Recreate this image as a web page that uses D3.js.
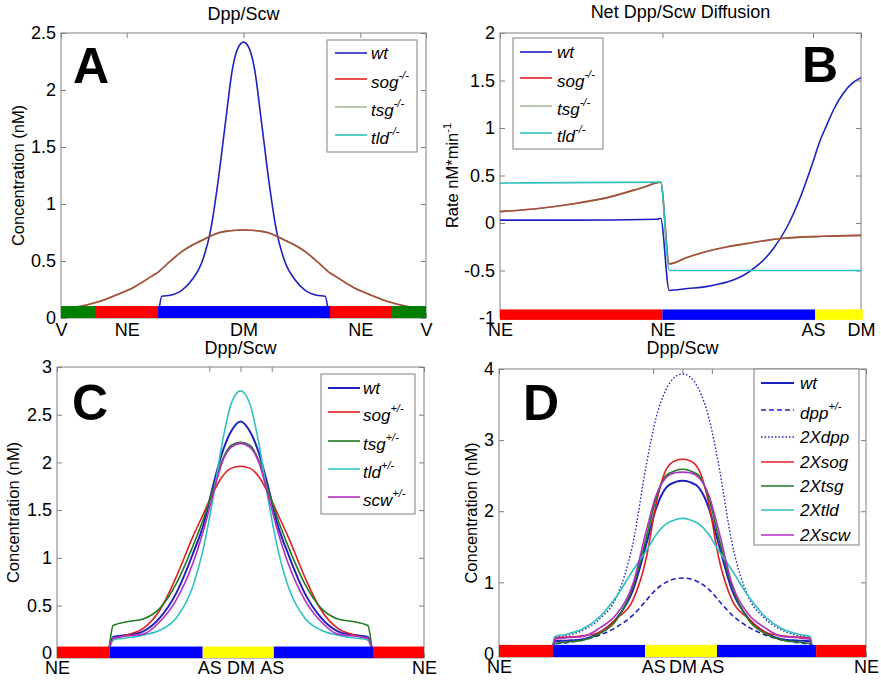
<!DOCTYPE html>
<html>
<head>
<meta charset="utf-8">
<script src="https://cdn.jsdelivr.net/npm/d3@7"></script>
<style>
body { margin: 0; background: #fff; }
text { font-family: "Liberation Sans", Arial, sans-serif; }
</style>
</head>
<body>
<script>
// ---------- panel A : Dpp/Scw, null mutants ----------
var aX   = [0, 5, 10, 15, 20, 25, 26.9, 27.6, 30, 33, 36, 38.5, 41, 43, 45, 47, 48.5, 50, 51.5, 53, 55, 57, 59, 61.5, 64, 67, 70, 72.4, 73.1, 75, 80, 85, 90, 95, 100];
var aWt  = [null, null, null, null, null, null, 0.08, 0.19, 0.2, 0.24, 0.34, 0.48, 0.77, 1.19, 1.7, 2.19, 2.37, 2.42, 2.37, 2.19, 1.7, 1.19, 0.77, 0.48, 0.34, 0.24, 0.2, 0.19, 0.08, null, null, null, null, null, null];
var aSog = [0.08, 0.1, 0.14, 0.2, 0.27, 0.37, 0.41, 0.43, 0.5, 0.58, 0.64, 0.68, 0.72, 0.745, 0.76, 0.768, 0.77, 0.772, 0.77, 0.768, 0.76, 0.745, 0.72, 0.68, 0.64, 0.58, 0.5, 0.43, 0.41, 0.37, 0.27, 0.2, 0.14, 0.1, 0.08];
var aTsg = [0.08, 0.1, 0.14, 0.2, 0.27, 0.37, 0.41, 0.43, 0.5, 0.58, 0.64, 0.68, 0.72, 0.745, 0.76, 0.768, 0.77, 0.772, 0.77, 0.768, 0.76, 0.745, 0.72, 0.68, 0.64, 0.58, 0.5, 0.43, 0.41, 0.37, 0.27, 0.2, 0.14, 0.1, 0.08];
var aTldX = [0, 100];
var aTld  = [0.03, 0.03];
var aNames = ['wt', 'sog', 'tsg', 'tld'];
var aSups  = ['', '-/-', '-/-', '-/-'];
var aYTicks = [0, 0.5, 1, 1.5, 2, 2.5];
var aXTicks = [0, 18, 50, 82, 100];
var aXLabels = ['V', 'NE', 'DM', 'NE', 'V'];
var aBand = [0, 9.6, 26.6, 73.7, 90.7, 100];

// ---------- panel B : net diffusion ----------
var bWtX  = [0, 20, 43.5, 44.5, 46.9, 52, 57.2, 61, 64.6, 67.5, 70.2, 73, 75.7, 79.4, 83.5, 86.5, 88.5, 90.5, 92.5, 95, 97.5, 100];
var bWt   = [0.03, 0.03, 0.04, 0.05, -0.71, -0.69, -0.67, -0.64, -0.6, -0.55, -0.48, -0.39, -0.27, -0.05, 0.3, 0.62, 0.85, 1.03, 1.2, 1.36, 1.47, 1.53];
var bSogX = [0, 10, 20, 30, 40, 44.5, 46.9, 52, 57.2, 63, 69.3, 78.5, 89.6, 100];
var bSog  = [0.12, 0.15, 0.2, 0.27, 0.38, 0.43, -0.43, -0.36, -0.3, -0.25, -0.21, -0.16, -0.14, -0.13];
var bTsg  = [0.12, 0.15, 0.2, 0.27, 0.38, 0.43, -0.43, -0.36, -0.3, -0.25, -0.21, -0.16, -0.14, -0.13];
var bTldX = [0, 44.5, 46.9, 100];
var bTld  = [0.42, 0.43, -0.5, -0.5];
var bYTicks = [-1, -0.5, 0, 0.5, 1, 1.5, 2];
var bXTicks = [0, 45, 86.7, 100];
var bXLabels = ['NE', 'NE', 'AS', 'DM'];
var bBand = [0, 45, 87.3, 100.5];

// ---------- panel C : heterozygotes ----------
var cX   = [14.2, 15.3, 19, 23.5, 28, 32.5, 37, 40, 42.5, 45, 47.5, 50, 52.5, 55, 57.5, 60, 63, 67.5, 72, 76.5, 81, 84.7, 85.8];
var cWt  = [0.05, 0.17, 0.19, 0.23, 0.37, 0.63, 1.04, 1.36, 1.75, 2.1, 2.33, 2.43, 2.33, 2.1, 1.75, 1.36, 1.04, 0.63, 0.37, 0.23, 0.19, 0.17, 0.05];
var cSog = [0.05, 0.14, 0.19, 0.26, 0.45, 0.8, 1.22, 1.47, 1.68, 1.85, 1.94, 1.96, 1.94, 1.85, 1.68, 1.47, 1.22, 0.8, 0.45, 0.26, 0.19, 0.14, 0.05];
var cTsg = [0.05, 0.29, 0.33, 0.36, 0.47, 0.73, 1.12, 1.42, 1.72, 2.02, 2.18, 2.21, 2.18, 2.02, 1.72, 1.42, 1.12, 0.73, 0.47, 0.36, 0.33, 0.29, 0.05];
var cTld = [0.05, 0.14, 0.16, 0.19, 0.24, 0.37, 0.7, 1.12, 1.62, 2.2, 2.62, 2.75, 2.62, 2.2, 1.62, 1.12, 0.7, 0.37, 0.24, 0.19, 0.16, 0.14, 0.05];
var cScw = [0.05, 0.16, 0.18, 0.2, 0.33, 0.56, 0.94, 1.3, 1.66, 2.0, 2.16, 2.2, 2.16, 2.0, 1.66, 1.3, 0.94, 0.56, 0.33, 0.2, 0.18, 0.16, 0.05];
var cNames = ['wt', 'sog', 'tsg', 'tld', 'scw'];
var cSups  = ['', '+/-', '+/-', '+/-', '+/-'];
var cYTicks = [0, 0.5, 1, 1.5, 2, 2.5, 3];
var cXTicks = [0, 41.5, 50, 58.5, 100];
var cXLabels = ['NE', 'AS', 'DM', 'AS', 'NE'];
var cBand = [0, 14.4, 39.7, 59.1, 86.1, 100];

// ---------- panel D : doubled doses ----------
var dX    = [14.6, 15.2, 18.4, 23, 27.5, 32, 36.5, 40.2, 42.8, 45.5, 48, 50, 52, 54.5, 57.2, 59.8, 63.5, 68, 72.5, 77, 81.6, 84.8, 85.4];
var dWt   = [0.05, 0.17, 0.18, 0.2, 0.3, 0.49, 0.89, 1.55, 2.04, 2.33, 2.41, 2.43, 2.41, 2.33, 2.04, 1.55, 0.89, 0.49, 0.3, 0.2, 0.18, 0.17, 0.05];
var dDpp  = [0.04, 0.13, 0.15, 0.19, 0.26, 0.37, 0.54, 0.75, 0.9, 1.0, 1.05, 1.06, 1.05, 1.0, 0.9, 0.75, 0.54, 0.37, 0.26, 0.19, 0.15, 0.13, 0.04];
var d2Dpp = [0.08, 0.22, 0.25, 0.33, 0.49, 0.79, 1.55, 2.67, 3.31, 3.71, 3.89, 3.93, 3.89, 3.71, 3.31, 2.67, 1.55, 0.79, 0.49, 0.33, 0.25, 0.22, 0.08];
var d2Sog = [0.05, 0.22, 0.23, 0.25, 0.3, 0.49, 0.75, 1.36, 2.1, 2.58, 2.71, 2.73, 2.71, 2.58, 2.1, 1.36, 0.75, 0.49, 0.3, 0.25, 0.23, 0.22, 0.05];
var d2Tsg = [0.04, 0.14, 0.16, 0.19, 0.28, 0.47, 0.94, 1.64, 2.18, 2.5, 2.57, 2.59, 2.57, 2.5, 2.18, 1.64, 0.94, 0.47, 0.28, 0.19, 0.16, 0.14, 0.04];
var d2Tld = [0.06, 0.24, 0.27, 0.35, 0.52, 0.8, 1.17, 1.45, 1.67, 1.82, 1.88, 1.9, 1.88, 1.82, 1.67, 1.45, 1.17, 0.8, 0.52, 0.35, 0.27, 0.24, 0.06];
var d2Scw = [0.05, 0.2, 0.22, 0.24, 0.36, 0.55, 0.98, 1.74, 2.22, 2.47, 2.54, 2.55, 2.54, 2.47, 2.22, 1.74, 0.98, 0.55, 0.36, 0.24, 0.22, 0.2, 0.05];
var dNames = ['wt', 'dpp', '2Xdpp', '2Xsog', '2Xtsg', '2Xtld', '2Xscw'];
var dSups  = ['', '+/-', '', '', '', '', ''];
var dYTicks = [0, 1, 2, 3, 4];
var dXTicks = [0, 42, 50, 58, 100];
var dXLabels = ['NE', 'AS', 'DM', 'AS', 'NE'];
var dBand = [0, 14.7, 39.8, 59.4, 86.4, 100];

// colours
var BLUE = '#2020c0', RED = '#e02020', GREEN = '#207a20', PALEGREEN = '#60804a',
    CYAN = '#30c0c0', MAGENTA = '#b030c0';
var BR = '#ff0000', BB = '#0000ff', BG = '#008000', BY = '#ffff00';

var W = 881, H = 682;
var svg = d3.select('body').append('svg').attr('width', W).attr('height', H);

function styleAxis(sel) {
    sel.select('.domain').remove();
    sel.selectAll('line').attr('stroke', '#808080');
    sel.selectAll('text').attr('fill', '#000').attr('font-size', '18px')
        .attr('font-family', '"Liberation Sans", Arial, sans-serif');
}

function panel(c) {
    var x = d3.scaleLinear().domain([0, 100]).range([c.left, c.right]);
    var y = d3.scaleLinear().domain(c.yDomain).range([c.bottom, c.top]);
    var g = svg.append('g');

    // ticks on all four sides, pointing inward
    g.append('g').attr('transform', 'translate(' + c.left + ',0)')
        .call(d3.axisLeft(y).tickValues(c.yTicks).tickSize(-5).tickSizeOuter(0).tickPadding(5)
            .tickFormat(function (d) { return String(d); }))
        .call(styleAxis);
    g.append('g').attr('transform', 'translate(' + c.right + ',0)')
        .call(d3.axisRight(y).tickValues(c.yTicks).tickSize(-5).tickSizeOuter(0).tickFormat(''))
        .call(styleAxis);
    g.append('g').attr('transform', 'translate(0,' + c.top + ')')
        .call(d3.axisTop(x).tickValues(c.xTicks).tickSize(-5).tickSizeOuter(0).tickFormat(''))
        .call(styleAxis);
    g.append('g').attr('transform', 'translate(0,' + c.bottom + ')')
        .call(d3.axisBottom(x).tickValues(c.xTicks).tickSize(-5).tickSizeOuter(0).tickPadding(c.xPad)
            .tickFormat(function (d, i) { return c.xLabels[i]; }))
        .call(styleAxis);

    g.append('rect')
        .attr('x', c.left).attr('y', c.top)
        .attr('width', c.right - c.left).attr('height', c.bottom - c.top)
        .attr('fill', 'none').attr('stroke', '#808080');

    var line = d3.line()
        .defined(function (d) { return d[1] !== null; })
        .x(function (d) { return x(d[0]); })
        .y(function (d) { return y(d[1]); })
        .curve(d3.curveMonotoneX);

    c.series.forEach(function (s) {
        var pts = s.x.map(function (v, i) { return [v, s.y[i]]; });
        g.append('path').datum(pts)
            .attr('d', line)
            .attr('fill', 'none')
            .attr('stroke', s.color)
            .attr('stroke-width', s.width || 1.6)
            .attr('stroke-opacity', s.opacity || 1)
            .attr('stroke-dasharray', s.dash || null);
    });

    // region bar along the bottom
    g.selectAll('.band').data(d3.pairs(c.band)).enter()
        .append('rect')
        .attr('x', function (d) { return x(d[0]); })
        .attr('width', function (d) { return x(d[1]) - x(d[0]); })
        .attr('y', y(c.bandY[1]))
        .attr('height', y(c.bandY[0]) - y(c.bandY[1]))
        .attr('fill', function (d, i) { return c.bandColors[i]; });

    g.append('text').attr('x', (c.left + c.right) / 2).attr('y', c.titleY)
        .attr('text-anchor', 'middle').attr('font-size', '18px').text(c.title);

    g.append('text').attr('x', c.letterX).attr('y', c.letterY)
        .attr('font-size', '50px').attr('font-weight', 'bold').text(c.letter);

    var yl = g.append('text')
        .attr('transform', 'translate(' + c.yLabelX + ',' + (c.top + c.bottom) / 2 + ') rotate(-90)')
        .attr('text-anchor', 'middle').attr('font-size', '16.5px');
    yl.append('tspan').text(c.yLabel[0]);
    if (c.yLabel[1]) yl.append('tspan').attr('dy', -7).attr('font-size', '11px').text(c.yLabel[1]);

    // legend
    var L = c.legend;
    g.append('rect').attr('x', L.x0).attr('y', L.y0)
        .attr('width', L.x1 - L.x0).attr('height', L.y1 - L.y0)
        .attr('fill', '#fff').attr('stroke', '#808080');
    c.names.forEach(function (name, i) {
        var s = c.series[i], ry = L.rows[i];
        g.append('line').attr('x1', L.lx0).attr('x2', L.lx1).attr('y1', ry).attr('y2', ry)
            .attr('stroke', s.color).attr('stroke-width', s.width || 1.6)
            .attr('stroke-opacity', s.opacity || 1)
            .attr('stroke-dasharray', s.dash || null);
        var t = g.append('text').attr('x', L.tx).attr('y', ry + (c.sups[i] ? 9 : 6))
            .attr('font-size', '17px').attr('font-style', 'italic');
        t.append('tspan').text(name);
        if (c.sups[i]) t.append('tspan').attr('dy', -9).attr('font-size', '11px').text(c.sups[i]);
    });
}

panel({
    left: 61, right: 426, top: 33, bottom: 318, yDomain: [0, 2.5],
    yTicks: aYTicks, xTicks: aXTicks, xLabels: aXLabels, xPad: 5,
    band: aBand, bandY: [0, 0.105], bandColors: [BG, BR, BB, BR, BG],
    series: [
        { x: aX, y: aWt, color: BLUE },
        { x: aX, y: aSog, color: RED },
        { x: aX, y: aTsg, color: PALEGREEN, opacity: 0.55 },
        { x: aTldX, y: aTld, color: CYAN }
    ],
    names: aNames, sups: aSups,
    title: 'Dpp/Scw', titleY: 20, letter: 'A', letterX: 73, letterY: 83,
    yLabel: ['Concentration (nM)'], yLabelX: 24,
    legend: { x0: 327, x1: 417, y0: 40, y1: 152, lx0: 335, lx1: 367, tx: 371, rows: [53, 79, 107, 135] }
});

panel({
    left: 500, right: 861, top: 33, bottom: 318, yDomain: [-1, 2],
    yTicks: bYTicks, xTicks: bXTicks, xLabels: bXLabels, xPad: 5,
    band: bBand, bandY: [-1.02, -0.91], bandColors: [BR, BB, BY],
    series: [
        { x: bWtX, y: bWt, color: BLUE },
        { x: bSogX, y: bSog, color: RED },
        { x: bSogX, y: bTsg, color: PALEGREEN, opacity: 0.55 },
        { x: bTldX, y: bTld, color: CYAN }
    ],
    names: aNames, sups: aSups,
    title: 'Net Dpp/Scw Diffusion', titleY: 18, letter: 'B', letterX: 802, letterY: 82,
    yLabel: ['Rate nM*min', '-1'], yLabelX: 458,
    legend: { x0: 513, x1: 603, y0: 38, y1: 149, lx0: 520, lx1: 552, tx: 557, rows: [52, 78, 106, 133] }
});

panel({
    left: 57, right: 424, top: 367, bottom: 658, yDomain: [-0.05, 3],
    yTicks: cYTicks, xTicks: cXTicks, xLabels: cXLabels, xPad: 3,
    band: cBand, bandY: [-0.05, 0.07], bandColors: [BR, BB, BY, BB, BR],
    series: [
        { x: cX, y: cWt, color: BLUE, width: 2 },
        { x: cX, y: cSog, color: RED },
        { x: cX, y: cTsg, color: GREEN },
        { x: cX, y: cTld, color: CYAN },
        { x: cX, y: cScw, color: MAGENTA }
    ],
    names: cNames, sups: cSups,
    title: 'Dpp/Scw', titleY: 354, letter: 'C', letterX: 72, letterY: 420,
    yLabel: ['Concentration (nM)'], yLabelX: 19,
    legend: { x0: 321, x1: 415, y0: 374, y1: 514, lx0: 328, lx1: 360, tx: 363, rows: [388, 412, 441, 469, 497] }
});

panel({
    left: 499, right: 866, top: 369, bottom: 657, yDomain: [-0.05, 4],
    yTicks: dYTicks, xTicks: dXTicks, xLabels: dXLabels, xPad: 3,
    band: dBand, bandY: [-0.05, 0.12], bandColors: [BR, BB, BY, BB, BR],
    series: [
        { x: dX, y: dWt, color: BLUE, width: 2 },
        { x: dX, y: dDpp, color: BLUE, dash: '5,3' },
        { x: dX, y: d2Dpp, color: BLUE, dash: '1.5,2', width: 1.4 },
        { x: dX, y: d2Sog, color: RED },
        { x: dX, y: d2Tsg, color: GREEN },
        { x: dX, y: d2Tld, color: CYAN },
        { x: dX, y: d2Scw, color: MAGENTA }
    ],
    names: dNames, sups: dSups,
    title: 'Dpp/Scw', titleY: 354, letter: 'D', letterX: 523, letterY: 420,
    yLabel: ['Concentration (nM)'], yLabelX: 477,
    legend: { x0: 754, x1: 859, y0: 369, y1: 545, lx0: 761, lx1: 794, tx: 800, rows: [383, 410, 437, 462, 486, 510, 535] }
});
</script>
</body>
</html>
